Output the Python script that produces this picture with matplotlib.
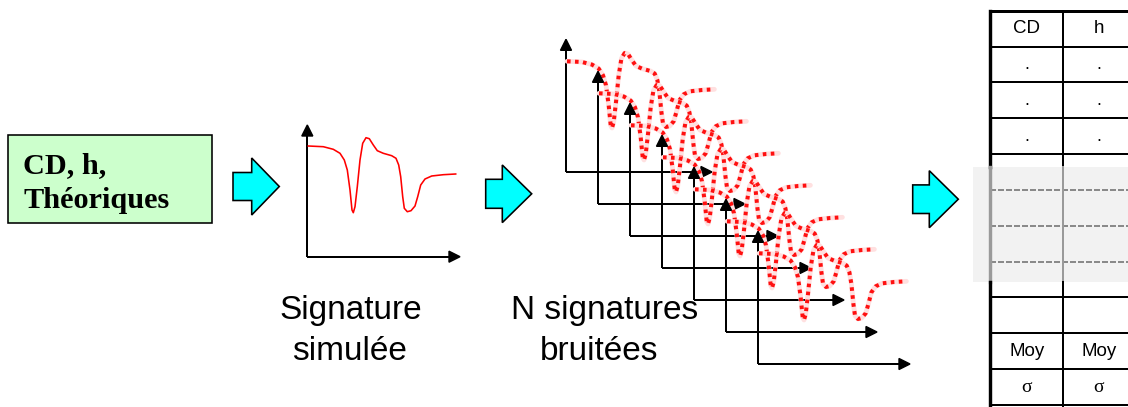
import matplotlib
matplotlib.use("Agg")
import matplotlib.pyplot as plt
from matplotlib.patches import Polygon, Rectangle
import numpy as np

# ---------------- data ----------------
# simulated signature, offsets (px) from its axis origin: x to the right, y upward
sig_dx = [1.0, 16.0, 26.0, 32.7, 37.0, 40.0, 42.7, 44.7, 46.0, 47.7, 50.0, 52.7, 55.4,
          58.7, 62.0, 66.0, 70.0, 76.0, 84.4, 88.7, 91.4, 93.4, 95.4, 97.0, 100.0,
          103.7, 107.7, 110.4, 113.4, 117.7, 124.4, 136.0, 148.4]
sig_dy = [110.7, 110.0, 107.4, 103.4, 96.7, 86.7, 66.7, 46.7, 44.0, 50.0, 70.0, 96.7,
          113.4, 119.0, 118.0, 111.7, 106.0, 103.4, 101.0, 98.4, 91.7, 80.0, 60.0,
          48.4, 45.0, 46.0, 50.7, 60.0, 71.7, 77.7, 80.7, 82.0, 82.7]

n_noisy = 7
box_lines = ["CD, h,", "Théoriques"]
label_sim = ["Signature", "simulée"]
label_noisy = ["N signatures", "bruitées"]
table_col1 = ["CD", ".", ".", ".", "", "", "", "", "", "Moy", "σ"]
table_col2 = ["h", ".", ".", ".", "", "", "", "", "", "Moy", "σ"]

# ---------------- figure ----------------
W, H = 1128, 407
fig = plt.figure(figsize=(W / 100, H / 100), dpi=100)
ax = fig.add_axes([0, 0, 1, 1])
ax.set_xlim(0, W)
ax.set_ylim(H, 0)
ax.axis("off")

PX = 72 / 100  # points per pixel


def axis_arrows(x0, y0, ytip, xtip, z):
    lw = 2.0 * PX
    ax.plot([x0, x0], [y0, ytip + 10], color="black", lw=lw, zorder=z, solid_capstyle="butt")
    ax.plot([x0, xtip - 10], [y0, y0], color="black", lw=lw, zorder=z, solid_capstyle="butt")
    ax.add_patch(Polygon([[x0 - 5.5, ytip + 11], [x0 + 5.5, ytip + 11], [x0, ytip]],
                         closed=True, color="black", zorder=z))
    ax.add_patch(Polygon([[xtip - 11, y0 - 5.5], [xtip - 11, y0 + 5.5], [xtip, y0]],
                         closed=True, color="black", zorder=z))


def block_arrow(left, base, tip, cy, sh, hh):
    pts = [[left, cy - sh], [base, cy - sh], [base, cy - hh], [tip, cy],
           [base, cy + hh], [base, cy + sh], [left, cy + sh]]
    ax.add_patch(Polygon(pts, closed=True, facecolor="#00ffff", edgecolor="black",
                         lw=1.6 * PX, zorder=3, joinstyle="miter"))


dx = np.array(sig_dx)
dy = np.array(sig_dy)

# ---- green box ----
ax.add_patch(Rectangle((8.3, 135), 203.4, 87.7, facecolor="#ccffcc", edgecolor="black",
                       lw=1.6 * PX, zorder=2))
ax.text(23, 173, box_lines[0], fontsize=21.8, fontweight="bold", family="Liberation Serif",
        ha="left", va="baseline", zorder=3)
ax.text(23, 208, box_lines[1], fontsize=21.8, fontweight="bold", family="Liberation Serif",
        ha="left", va="baseline", zorder=3)

# ---- block arrows ----
block_arrow(233, 251.7, 279.3, 186.5, 14, 28.5)
block_arrow(485.7, 502.3, 531.7, 193.8, 14.5, 28.8)
block_arrow(912.7, 929.3, 958.3, 199.2, 14.3, 28.5)

# ---- simulated signature ----
sx0, sy0 = 307.3, 256.7
axis_arrows(sx0, sy0, 125, 460, 4)
ax.plot(sx0 + dx, sy0 - dy, color="red", lw=1.6 * PX, zorder=5)

ax.text(351, 319, label_sim[0], fontsize=24, family="Liberation Sans", ha="center", va="baseline")
ax.text(350, 360, label_sim[1], fontsize=24, family="Liberation Sans", ha="center", va="baseline")

# ---- noisy signatures ----
for k in range(n_noisy):
    ox = 566 + 32 * k
    oy = 172 + 32 * k
    z = 10 + 3 * k
    axis_arrows(ox, oy, oy - 132.7, 712 + 33 * k, z)
    ax.plot(ox + dx, oy - dy, color="#ffe0e0", lw=4.8 * PX, zorder=z + 1,
            solid_capstyle="round")
    ax.plot(ox + dx, oy - dy, color="#ff1010", lw=4.0 * PX, zorder=z + 2,
            linestyle=(0, (0.9, 1.1)))

ax.text(605, 319, label_noisy[0], fontsize=24, family="Liberation Sans", ha="center", va="baseline")
ax.text(599, 360, label_noisy[1], fontsize=24, family="Liberation Sans", ha="center", va="baseline")

# ---- table ----
tx0, tx1, tx2 = 990, 1063.3, 1140
rows = np.linspace(10.7, 405, len(table_col1) + 1)
gray_top, gray_bot = 166.7, 281.7
ax.add_patch(Rectangle((973, gray_top), W - 973, gray_bot - gray_top, facecolor="#f2f2f2",
                       edgecolor="none", zorder=1))
for i, y in enumerate(rows):
    in_gray = gray_top < y < gray_bot
    col = "#8a8a8a" if in_gray else "black"
    lw = (3.0 if i == 0 else 2.0) * PX
    ax.plot([tx0, tx2], [y, y], color=col, lw=lw, zorder=2,
            linestyle=(0, (3, 1)) if in_gray else "-")
for x, lwp in [(tx0, 3.4), (tx1, 2.0)]:
    ax.plot([x, x], [rows[0], gray_top], color="black", lw=lwp * PX, zorder=2)
    ax.plot([x, x], [gray_top, gray_bot], color="#9a9a9a", lw=lwp * PX, zorder=2)
    ax.plot([x, x], [gray_bot, rows[-1] + 2], color="black", lw=lwp * PX, zorder=2)

for i, (a, b) in enumerate(zip(table_col1, table_col2)):
    yc = (rows[i] + rows[i + 1]) / 2
    if a == "σ":
        fam, fs = "Liberation Serif", 14
    elif a == ".":
        fam, fs = "Liberation Sans", 13
    else:
        fam, fs = "Liberation Sans", 13.5
    ax.text(1027, yc, a, fontsize=fs, family=fam, ha="center", va="center")
    ax.text(1099, yc, b, fontsize=fs, family=fam, ha="center", va="center")

fig.savefig("out.png", dpi=100)
